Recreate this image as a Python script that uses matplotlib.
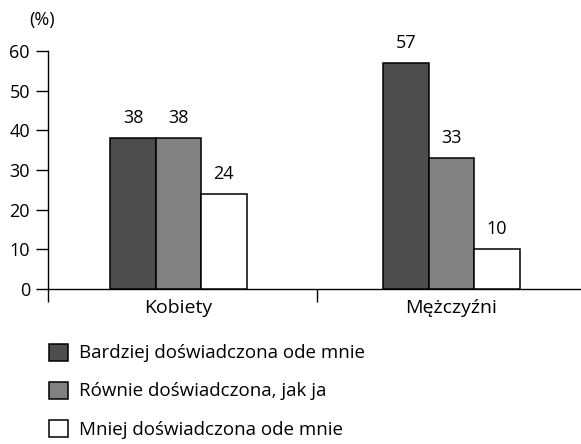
import numpy as np
import matplotlib
matplotlib.use('Agg')
import matplotlib.pyplot as plt
from matplotlib.ticker import FixedLocator

plt.rcParams['font.family'] = ['Open Sans', 'DejaVu Sans']
plt.rcParams['font.size'] = 13

groups = ['Kobiety', 'Mężczyźni']
series = ['Bardziej doświadczona ode mnie',
          'Równie doświadczona, jak ja',
          'Mniej doświadczona ode mnie']
values = {
    'Bardziej doświadczona ode mnie': [38, 57],
    'Równie doświadczona, jak ja': [38, 33],
    'Mniej doświadczona ode mnie': [24, 10],
}
colors = ['#4d4d4d', '#818181', '#ffffff']

fig = plt.figure(figsize=(5.81, 4.44), dpi=100)
W, H = 581, 444
ax = fig.add_axes([48 / W, (H - 289) / H, 533 / W, 238 / H])

centers = np.array([0.485, 1.5])
width = 0.169
for i, name in enumerate(series):
    pos = centers + (i - 1) * width
    bars = ax.bar(pos, values[name], width, color=colors[i], edgecolor='black',
                  linewidth=1.1, label=name, zorder=3)
    for b, v in zip(bars, values[name]):
        ax.annotate(str(v), (b.get_x() + b.get_width() / 2, v),
                    xytext=(0, 8), textcoords='offset points',
                    ha='center', va='bottom', fontsize=13)

ax.set_xlim(0, 533 / 269)
ax.set_ylim(0, 60)
ax.set_yticks(range(0, 61, 10))
ax.set_xticks(centers)
ax.set_xticklabels(groups, fontsize=14)
ax.xaxis.set_minor_locator(FixedLocator([0, 1]))
ax.tick_params(axis='x', which='major', length=0, pad=7)
ax.tick_params(axis='x', which='minor', length=9, width=1, direction='out')
ax.tick_params(axis='y', length=9, width=1, pad=4, labelsize=13)

for s in ['top', 'right']:
    ax.spines[s].set_visible(False)
for s in ['left', 'bottom']:
    ax.spines[s].set_linewidth(1)
ax.spines['left'].set_bounds(0, 60)

fig.text(42 / W, 1 - 20 / H, '(%)', ha='center', va='center', fontsize=13)

handles, labels = ax.get_legend_handles_labels()
fig.legend(handles, labels, loc='upper left',
           bbox_to_anchor=(41 / W, 1 - 336 / H), frameon=False,
           handlelength=1.02, handleheight=1.02, handletextpad=0.6,
           labelspacing=1.02, fontsize=13.5, borderaxespad=0)

fig.savefig('out.png', dpi=100)
